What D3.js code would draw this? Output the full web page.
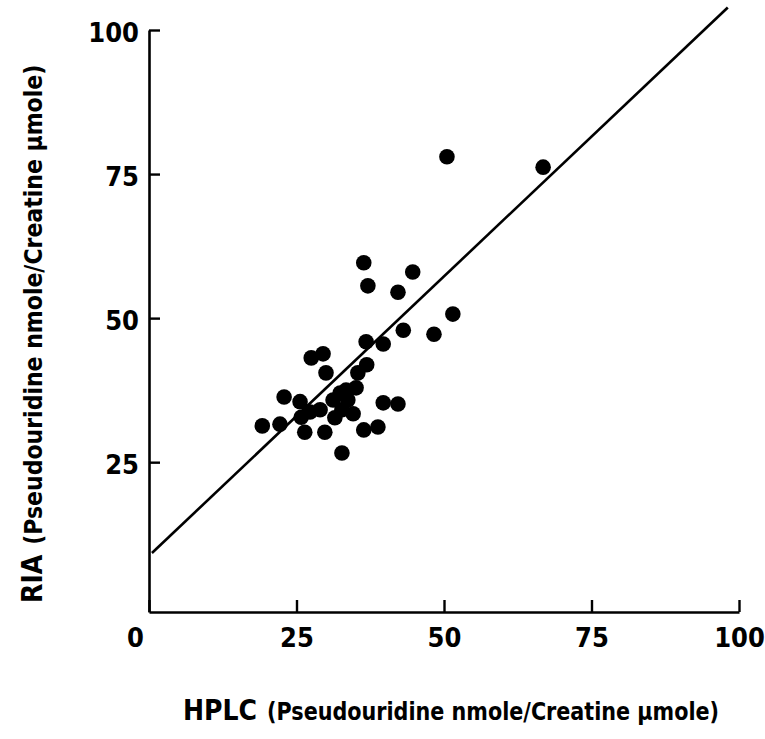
<!DOCTYPE html>
<html>
<head>
<meta charset="utf-8">
<script src="https://cdn.jsdelivr.net/npm/d3@7"></script>
<style>
  html, body { margin: 0; padding: 0; background: #fff; }
  svg { display: block; }
  text { font-family: "Liberation Sans Narrow", "DejaVu Sans Condensed", "Liberation Sans", sans-serif; fill: #000; }
</style>
</head>
<body>
<svg id="chart" width="765" height="739"></svg>
<script>
// HPLC vs RIA pseudouridine/creatinine
const hplcValues = [
  19.2, 22.2, 22.9, 25.6, 25.8, 26.4, 27.5, 29.5, 30.0, 29.8,
  29.0, 27.3, 31.5, 32.7, 32.4, 33.7, 31.2, 35.1, 34.6, 35.4,
  36.9, 36.8, 39.7, 36.4, 44.7, 37.1, 42.2, 51.5, 43.1, 48.3,
  39.7, 42.2, 36.4, 38.8, 50.5, 66.8, 32.7, 33.4
];
const riaValues = [
  31.3, 31.6, 36.3, 35.5, 32.8, 30.2, 43.1, 43.8, 40.5, 30.2,
  34.1, 33.7, 32.7, 26.6, 37.0, 35.8, 35.8, 37.9, 33.4, 40.5,
  41.9, 45.9, 45.5, 59.6, 58.0, 55.6, 54.5, 50.7, 47.9, 47.2,
  35.3, 35.1, 30.6, 31.1, 78.0, 76.2, 34.1, 37.5
];

// regression line (drawn as printed: intercept, slope, x extent)
const fitIntercept = 8.75;
const fitSlope = 0.97;
const fitXRange = [0.5, 98.1];

const xTicks = [0, 25, 50, 75, 100];
const yTicks = [25, 50, 75, 100];

const xTitleMain = "HPLC";
const xTitleUnit = "(Pseudouridine nmole/Creatine \u00b5mole)";
const yTitleMain = "RIA";
const yTitleUnit = "(Pseudouridine nmole/Creatine \u00b5mole)";

const svg = d3.select("#chart");

const x = d3.scaleLinear().domain([0, 100]).range([149, 739]);
const y = d3.scaleLinear().domain([-1, 100]).range([612, 30]);

const points = hplcValues.map((v, i) => ({ x: v, y: riaValues[i] }));

// x axis, ticks pointing into the plot
const gx = svg.append("g")
  .attr("transform", `translate(0,${y(-1)})`)
  .call(d3.axisBottom(x).tickValues(xTicks).tickSize(-12).tickSizeOuter(0).tickPadding(16)
    .tickFormat(d3.format("d")));

// y axis
const gy = svg.append("g")
  .attr("transform", `translate(${x(0)},0)`)
  .call(d3.axisLeft(y).tickValues(yTicks).tickSize(-11).tickSizeOuter(0).tickPadding(10)
    .tickFormat(d3.format("d")));

[gx, gy].forEach((g) => {
  g.select(".domain").attr("stroke", "#000").attr("stroke-width", 2.6);
  g.selectAll(".tick line").attr("stroke", "#000").attr("stroke-width", 2.4);
  g.selectAll(".tick text")
    .attr("font-size", 27)
    .attr("font-weight", "bold")
    .attr("fill", "#000");
});
gx.selectAll(".tick text").filter((d) => d === 0).attr("dx", -14);
gy.selectAll(".tick text").attr("dy", "0.42em");

// fit line
svg.append("line")
  .attr("x1", x(fitXRange[0]))
  .attr("y1", y(fitIntercept + fitSlope * fitXRange[0]))
  .attr("x2", x(fitXRange[1]))
  .attr("y2", y(fitIntercept + fitSlope * fitXRange[1]))
  .attr("stroke", "#000")
  .attr("stroke-width", 2.6);

// points
svg.append("g")
  .selectAll("circle")
  .data(points)
  .enter()
  .append("circle")
  .attr("cx", (d) => x(d.x))
  .attr("cy", (d) => y(d.y))
  .attr("r", 7.8)
  .attr("fill", "#000");

// axis titles
const xt = svg.append("text")
  .attr("x", 183)
  .attr("y", 720);
xt.append("tspan").attr("font-size", 28).attr("font-weight", "bold").text(xTitleMain);
xt.append("tspan").attr("dx", 10).attr("font-size", 24).attr("font-weight", "bold")
  .attr("textLength", 452).attr("lengthAdjust", "spacingAndGlyphs").text(xTitleUnit);

const yt = svg.append("text")
  .attr("transform", "translate(42,603) rotate(-90)");
yt.append("tspan").attr("font-size", 28).attr("font-weight", "bold").text(yTitleMain);
yt.append("tspan").attr("dx", 10).attr("font-size", 24).attr("font-weight", "bold")
  .attr("textLength", 480).attr("lengthAdjust", "spacingAndGlyphs").text(yTitleUnit);
</script>
</body>
</html>
